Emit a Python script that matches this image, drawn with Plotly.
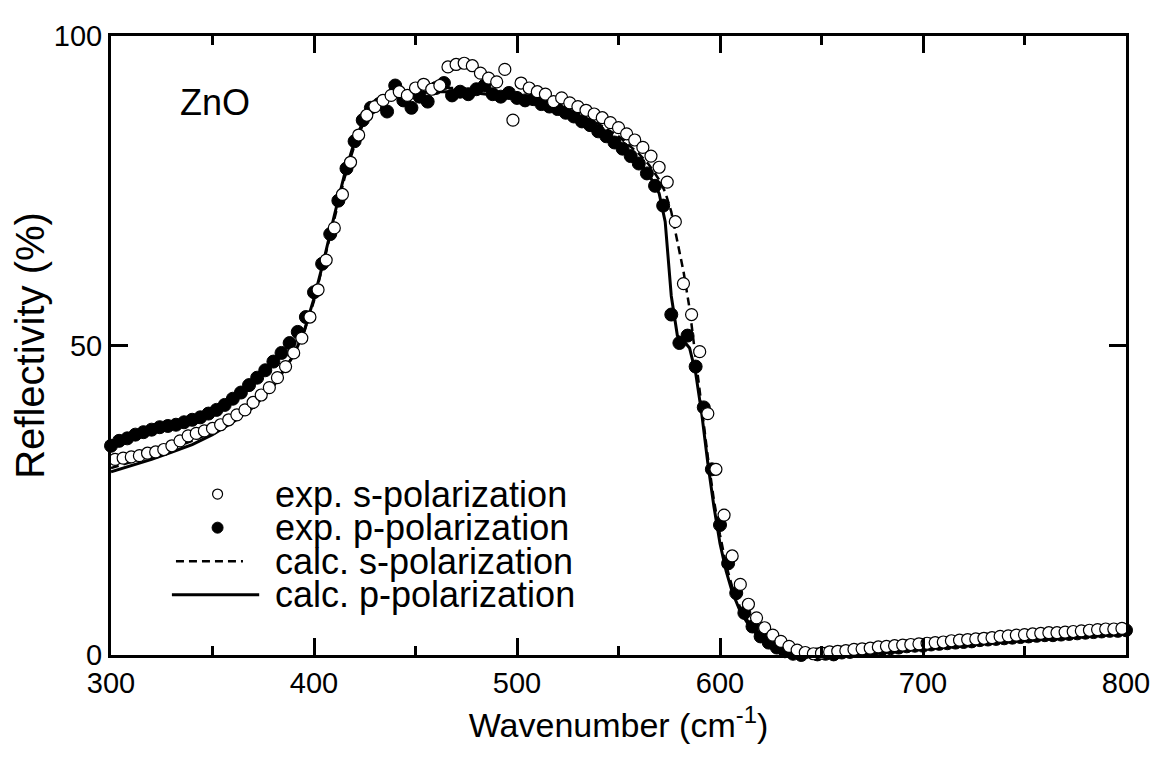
import plotly.graph_objects as go

# ---------------- data ----------------
# experimental p-polarization (filled circles)
exp_p_x = list(range(300, 801, 4))
exp_p_r = [33.8, 34.6, 35.0, 35.6, 36.0, 36.4, 36.8, 37.0, 37.2, 37.6,
           38.0, 38.4, 39.0, 39.6, 40.4, 41.4, 42.4, 43.6, 44.8, 46.0,
           47.4, 48.8, 50.4, 52.2, 54.6, 58.6, 63.2, 68.0, 73.4, 78.6,
           83.0, 86.4, 88.4, 89.0, 87.8, 92.0, 89.6, 88.4, 90.2, 89.4,
           91.6, 92.4, 90.4, 91.0, 90.6, 91.4, 92.0, 90.6, 90.2, 90.8,
           90.0, 89.6, 89.8, 89.0, 88.6, 88.2, 87.6, 87.0, 86.2, 85.6,
           84.6, 83.8, 82.8, 81.8, 80.6, 79.4, 77.8, 75.8, 72.6, 55.0,
           50.4, 51.6, 46.6, 40.0, 30.0, 21.0, 14.8, 10.0, 6.8, 4.6,
           3.0, 2.0, 1.2, 0.6, 0.2, 0.0, -0.2, 0.1, 0.2, 0.1,
           0.4, 0.5, 0.7, 0.8, 0.9, 1.0, 1.1, 1.2, 1.4, 1.5,
           1.5, 1.7, 1.8, 1.9, 2.0, 2.1, 2.2, 2.4, 2.5, 2.6,
           2.7, 2.8, 2.9, 3.0, 3.1, 3.2, 3.2, 3.3, 3.4, 3.5,
           3.6, 3.7, 3.8, 3.9, 3.9, 4.0]

# experimental s-polarization (open circles)
exp_s_x = list(range(302, 799, 4))
exp_s_r = [31.6, 31.8, 32.0, 32.2, 32.6, 32.8, 33.2, 33.8, 34.6, 35.4,
           35.8, 36.2, 36.6, 37.2, 38.0, 38.8, 39.6, 40.8, 42.0, 43.2,
           44.8, 46.6, 48.8, 51.2, 54.6, 59.0, 63.8, 69.0, 74.4, 79.6,
           84.0, 87.2, 88.6, 89.6, 90.4, 91.0, 90.4, 91.6, 92.2, 91.4,
           92.0, 95.0, 95.4, 95.6, 95.2, 94.0, 93.2, 92.6, 94.6, 86.4,
           92.4, 91.6, 91.0, 90.6, 89.4, 90.0, 89.2, 88.6, 88.0, 87.4,
           86.8, 86.0, 85.2, 84.2, 83.2, 82.0, 80.6, 78.8, 76.4, 70.0,
           60.0, 55.0, 49.0, 39.0, 30.0, 22.6, 16.0, 11.4, 8.2, 6.0,
           4.4, 3.2, 2.2, 1.4, 0.8, 0.4, 0.2, 0.3, 0.5, 0.6,
           0.7, 0.9, 1.0, 1.1, 1.3, 1.4, 1.5, 1.6, 1.7, 1.8,
           1.9, 2.0, 2.1, 2.3, 2.4, 2.5, 2.6, 2.7, 2.8, 3.0,
           3.1, 3.2, 3.3, 3.4, 3.5, 3.6, 3.6, 3.7, 3.8, 3.9,
           4.0, 4.1, 4.2, 4.2, 4.3]

# calculated curves
calc_x = [300, 310, 320, 330, 340, 350, 360, 370, 380, 390,
          395, 400, 405, 410, 415, 420, 425, 430, 440, 450,
          460, 470, 480, 490, 500, 510, 520, 530, 540, 550,
          560, 565, 570, 573, 576, 579, 582, 585, 588, 591,
          594, 597, 600, 603, 606, 610, 615, 620, 625, 630,
          640, 650, 660, 680, 700, 720, 740, 760, 780, 800]
calc_p_r = [29.6, 30.6, 31.6, 32.8, 34.0, 35.6, 37.6, 40.0, 43.4, 48.4,
            52.2, 57.6, 64.0, 71.0, 77.6, 83.0, 86.8, 88.8, 90.2, 90.8,
            91.0, 91.0, 90.8, 90.4, 89.8, 89.0, 88.0, 86.8, 85.0, 82.8,
            79.6, 77.6, 74.6, 70.0, 58.0, 51.6, 50.8, 49.6, 45.6, 39.0,
            31.0, 24.0, 18.0, 13.6, 10.2, 7.0, 4.4, 2.8, 1.8, 1.0,
            0.2, 0.0, 0.2, 0.8, 1.4, 2.0, 2.6, 3.1, 3.6, 4.0]
calc_s_r = [30.2, 31.2, 32.2, 33.4, 34.6, 36.0, 38.0, 40.4, 43.6, 48.4,
            52.0, 57.2, 63.6, 70.4, 77.0, 82.4, 86.4, 88.8, 90.6, 91.4,
            91.6, 91.6, 91.4, 91.0, 90.4, 89.6, 88.6, 87.4, 85.8, 83.8,
            81.0, 79.2, 76.8, 74.8, 71.6, 67.0, 62.0, 56.0, 48.0, 40.0,
            32.0, 25.0, 19.4, 14.6, 11.0, 7.6, 4.8, 3.0, 2.0, 1.2,
            0.3, 0.1, 0.3, 0.9, 1.5, 2.1, 2.7, 3.2, 3.7, 4.1]

x_ticks = [300, 400, 500, 600, 700, 800]
y_ticks = [0, 50, 100]

legend_labels = ["exp. s-polarization", "exp. p-polarization",
                 "calc. s-polarization", "calc. p-polarization"]

assert len(exp_p_x) == len(exp_p_r), (len(exp_p_x), len(exp_p_r))
assert len(exp_s_x) == len(exp_s_r), (len(exp_s_x), len(exp_s_r))
assert len(calc_x) == len(calc_p_r) == len(calc_s_r)

FONT = "Liberation Sans, Arial, sans-serif"
DASH = "8px,5px"

fig = go.Figure()

fig.add_trace(go.Scatter(
    x=calc_x, y=calc_s_r, mode="lines", name=legend_labels[2],
    line=dict(color="black", width=2.5, dash=DASH), showlegend=False))
fig.add_trace(go.Scatter(
    x=calc_x, y=calc_p_r, mode="lines", name=legend_labels[3],
    line=dict(color="black", width=3), showlegend=False))
fig.add_trace(go.Scatter(
    x=exp_p_x, y=exp_p_r, mode="markers", name=legend_labels[1],
    marker=dict(symbol="circle", size=13, color="black",
                line=dict(color="black", width=1)),
    cliponaxis=False, showlegend=False))
fig.add_trace(go.Scatter(
    x=exp_s_x, y=exp_s_r, mode="markers", name=legend_labels[0],
    marker=dict(symbol="circle", size=12, color="white",
                line=dict(color="black", width=1.2)),
    cliponaxis=False, showlegend=False))

axis_common = dict(
    showline=True, linecolor="black", linewidth=3, mirror="ticks",
    ticks="inside", ticklen=17, tickwidth=3, tickcolor="black",
    showgrid=False, zeroline=False,
    tickfont=dict(family=FONT, size=29, color="black"),
)

fig.update_xaxes(
    range=[300, 800], tickvals=x_ticks,
    minor=dict(ticks="inside", ticklen=9, tickwidth=3, tickcolor="black", dtick=50, tick0=300),
    title=dict(text="Wavenumber (cm<sup>-1</sup>)", font=dict(family=FONT, size=34, color="black"), standoff=16),
    **axis_common)
fig.update_yaxes(
    range=[0, 100], tickvals=y_ticks,
    title=dict(text="Reflectivity (%)", font=dict(family=FONT, size=40, color="black"), standoff=6),
    **axis_common)

fig.add_annotation(
    text="ZnO", xref="paper", yref="paper", x=0.102, y=0.893,
    xanchor="center", yanchor="middle", showarrow=False,
    font=dict(family=FONT, size=36, color="black"))

# ---- hand-built legend (paper coordinates of the plotting area) ----
legend_rows_y = [0.260, 0.2057, 0.1515, 0.0973]
legend_text_x = 0.160
legend_marker_x = 0.105
for lbl, yy in zip(legend_labels, legend_rows_y):
    fig.add_annotation(
        text=lbl, xref="paper", yref="paper", x=legend_text_x, y=yy,
        xanchor="left", yanchor="middle", showarrow=False,
        font=dict(family=FONT, size=36, color="black"))

# open circle symbol
fig.add_shape(type="circle", xref="paper", yref="paper",
              xsizemode="pixel", ysizemode="pixel",
              xanchor=legend_marker_x, yanchor=legend_rows_y[0],
              x0=-5, x1=5, y0=-5, y1=5,
              line=dict(color="black", width=1.2), fillcolor="white")
# filled circle symbol
fig.add_shape(type="circle", xref="paper", yref="paper",
              xsizemode="pixel", ysizemode="pixel",
              xanchor=legend_marker_x, yanchor=legend_rows_y[1],
              x0=-5.5, x1=5.5, y0=-5.5, y1=5.5,
              line=dict(color="black", width=1), fillcolor="black")
# dashed line sample
fig.add_shape(type="line", xref="paper", yref="paper",
              x0=0.064, x1=0.130, y0=legend_rows_y[2], y1=legend_rows_y[2],
              line=dict(color="black", width=2.5, dash=DASH))
# solid line sample
fig.add_shape(type="line", xref="paper", yref="paper",
              x0=0.060, x1=0.146, y0=legend_rows_y[3], y1=legend_rows_y[3],
              line=dict(color="black", width=3))

fig.update_layout(
    width=1168, height=773,
    margin=dict(l=94, r=50, t=18, b=126),
    paper_bgcolor="white", plot_bgcolor="white",
    font=dict(family=FONT, size=29, color="black"),
    showlegend=False,
)

fig.write_html("out.html")
